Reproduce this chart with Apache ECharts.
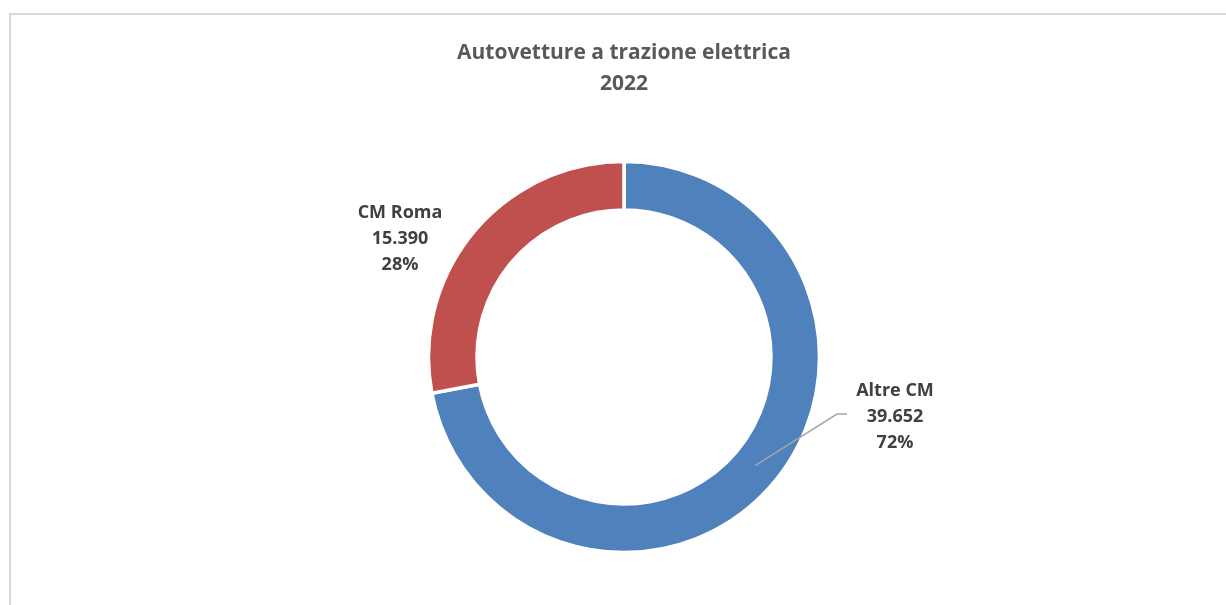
<!DOCTYPE html>
<html>
<head>
<meta charset="utf-8">
<script src="https://cdn.jsdelivr.net/npm/echarts@6/dist/echarts.min.js"></script>
<style>
html,body{margin:0;padding:0;background:#fff;}
#chart{width:1226px;height:605px;}
</style>
</head>
<body>
<div id="chart"></div>
<script>
var titleLines = ['Autovetture a trazione elettrica', '2022'];
var categories = ['Altre CM', 'CM Roma'];
var values = [39652, 15390];
var colors = ['#4F81BD', '#C0504D'];

var chart = echarts.init(document.getElementById('chart'));
var CX = 624, CY = 357, R_IN = 147, R_OUT = 195.5;
var total = values.reduce(function (a, b) { return a + b; }, 0);

function fmtIt(n) {
  return String(n).replace(/\B(?=(\d{3})+(?!\d))/g, '.');
}

// label anchor positions (centre of text block)
var labelPos = [[895, 417], [400, 239]];

// leader line for the first slice: from mid-angle / mid-radius of the slice to its label
function leaderPoints(i) {
  var before = 0;
  for (var k = 0; k < i; k++) before += values[k];
  var midFrac = (before + values[i] / 2) / total;
  var ang = (90 - midFrac * 360) * Math.PI / 180;
  var rm = (R_IN + R_OUT) / 2 - 1;
  var sx = CX + rm * Math.cos(ang);
  var sy = CY - rm * Math.sin(ang);
  var pos = labelPos[i];
  return [[sx, sy], [pos[0] - 58, pos[1] - 3], [pos[0] - 48, pos[1] - 3]];
}

chart.setOption({
  animation: false,
  title: {
    text: titleLines.join('\n'),
    left: CX - 5,
    textAlign: 'center',
    top: 33,
    textStyle: {
      fontFamily: 'Open Sans',
      fontWeight: 'bold',
      fontSize: 21,
      lineHeight: 31,
      color: '#595959'
    }
  },
  graphic: [{
    type: 'rect',
    shape: { x: 10, y: 14, width: 1400, height: 800 },
    style: { fill: 'none', stroke: '#d9d9d9', lineWidth: 2 },
    silent: true
  }, {
    type: 'polyline',
    z: 100,
    shape: { points: leaderPoints(0) },
    style: { fill: 'none', stroke: '#A6A6A6', lineWidth: 1.5 },
    silent: true
  }],
  series: [{
    type: 'pie',
    center: [CX, CY],
    radius: [R_IN, R_OUT],
    startAngle: 90,
    clockwise: true,
    avoidLabelOverlap: false,
    itemStyle: { borderColor: '#ffffff', borderWidth: 3.5 },
    label: {
      show: true,
      position: 'outside',
      fontFamily: 'Open Sans',
      fontWeight: 'bold',
      fontSize: 18,
      lineHeight: 26,
      color: '#404040',
      align: 'center',
      formatter: function (p) {
        return p.name + '\n' + fmtIt(p.value) + '\n' + Math.round(p.percent) + '%';
      }
    },
    labelLine: { show: false },
    labelLayout: function (params) {
      var pos = labelPos[params.dataIndex];
      return {
        x: pos[0],
        y: pos[1],
        align: 'center',
        verticalAlign: 'middle'
      };
    },
    data: categories.map(function (c, i) {
      return { name: c, value: values[i], itemStyle: { color: colors[i] } };
    })
  }]
});
</script>
</body>
</html>
